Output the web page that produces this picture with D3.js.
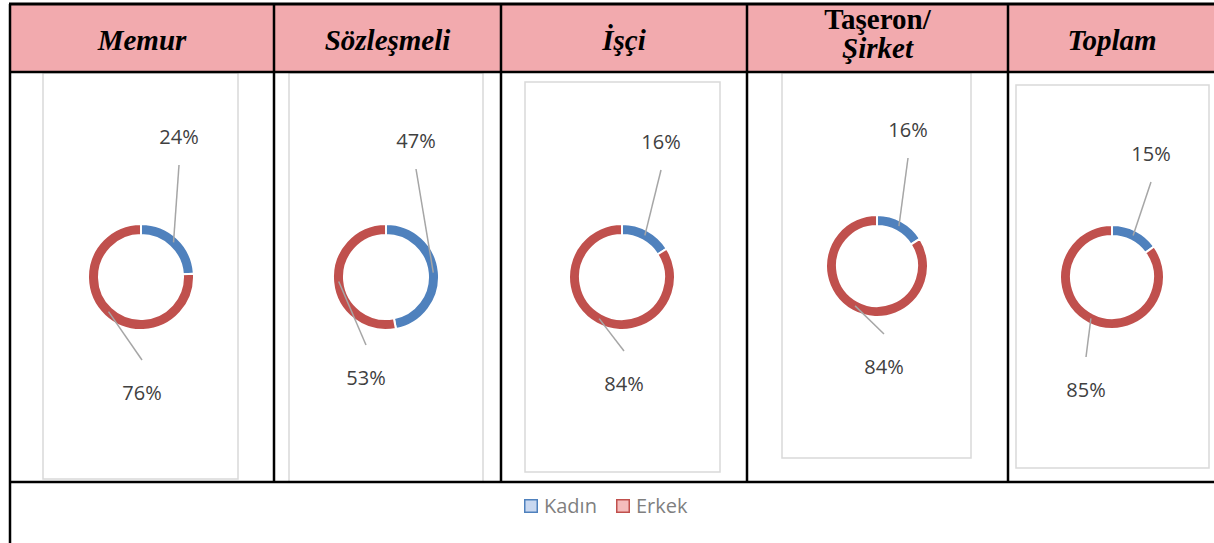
<!DOCTYPE html>
<html>
<head>
<meta charset="utf-8">
<script src="https://cdn.jsdelivr.net/npm/d3@7"></script>
<style>
  html, body { margin: 0; padding: 0; background: #fff; }
  svg { display: block; }
</style>
</head>
<body>
<div id="chart"></div>
<script>
// Data
const categories = ["Memur", "Sözleşmeli", "İşçi", "Taşeron/Şirket", "Toplam"];
const series = ["Kadın", "Erkek"];
const kadin = [24, 47, 16, 16, 15];
const erkek = [76, 53, 84, 84, 85];

document.addEventListener("DOMContentLoaded", function () {
    const width = 1214, height = 543;
    const svg = d3.select("#chart").append("svg")
        .attr("width", width)
        .attr("height", height);

    const colors = { "Kadın": "#4f81bd", "Erkek": "#c0504d" };
    const legendFill = { "Kadın": "#c9d8f0", "Erkek": "#f5bcbc" };

    // table grid
    const colEdges = [10, 274, 501, 747, 1008, 1216];
    const headTop = 4, headBottom = 72, bodyBottom = 482;

    // chart panels (placement of each Excel chart inside its cell)
    const panels = [
        { box: [43, 73, 238, 479], cx: 141, cy: 277, r: 53, lk: [38, -140], le: [1, 116] },
        { box: [289, 73, 483, 482], cx: 386, cy: 277, r: 53, lk: [30, -136], le: [-20, 101] },
        { box: [525, 82, 720, 472], cx: 622, cy: 277, r: 53, lk: [39, -135], le: [2, 107] },
        { box: [782, 73, 971, 458], cx: 877, cy: 266, r: 51, lk: [31, -136], le: [7, 101] },
        { box: [1016, 85, 1209, 468], cx: 1112, cy: 277, r: 52, lk: [39, -123], le: [-26, 113] }
    ];

    // header fill
    svg.append("rect")
        .attr("x", colEdges[0]).attr("y", headTop)
        .attr("width", colEdges[5] - colEdges[0]).attr("height", headBottom - headTop)
        .style("fill", "#f2aaae");

    // header labels
    categories.forEach((cat, i) => {
        const cx = (colEdges[i] + colEdges[i + 1]) / 2;
        const t = svg.append("text")
            .attr("x", cx)
            .attr("text-anchor", "middle")
            .style("font-family", "'Liberation Serif', 'Times New Roman', serif")
            .style("font-weight", "bold")
            .style("font-size", "29px")
            .style("fill", "#000");
        if (cat.indexOf("/") >= 0) {
            const parts = cat.split("/");
            t.append("tspan").attr("x", cx).attr("y", 29).text(parts[0] + "/");
            t.append("tspan").attr("x", cx).attr("y", 58)
                .style("font-style", "italic").text(parts[1]);
        } else {
            t.attr("y", 50).style("font-style", "italic").text(cat);
        }
    });

    // chart boxes
    panels.forEach(p => {
        svg.append("rect")
            .attr("x", p.box[0]).attr("y", p.box[1])
            .attr("width", p.box[2] - p.box[0]).attr("height", p.box[3] - p.box[1])
            .style("fill", "#fff")
            .style("stroke", "#d9d9d9")
            .style("stroke-width", 1.5);
    });

    // donuts
    const pie = d3.pie().sort(null).value(d => d.value);
    categories.forEach((cat, i) => {
        const p = panels[i];
        const rows = [
            { key: series[0], value: kadin[i] },
            { key: series[1], value: erkek[i] }
        ];
        const arcs = pie(rows);
        const arc = d3.arc().innerRadius(p.r - 11).outerRadius(p.r);
        const mid = d3.arc().innerRadius(p.r - 5.5).outerRadius(p.r - 5.5);
        const g = svg.append("g").attr("transform", `translate(${p.cx},${p.cy})`);

        g.selectAll("path")
            .data(arcs)
            .enter().append("path")
            .attr("d", arc)
            .style("fill", d => colors[d.data.key])
            .style("stroke", "#fff")
            .style("stroke-width", 2);

        // leader lines + labels
        arcs.forEach((d, j) => {
            const off = j === 0 ? p.lk : p.le;
            const c = mid.centroid(d);
            const endY = j === 0 ? off[1] + 28 : off[1] - 33;
            g.append("line")
                .attr("x1", c[0]).attr("y1", c[1])
                .attr("x2", off[0]).attr("y2", endY)
                .style("stroke", "#a6a6a6")
                .style("stroke-width", 1.5);
            g.append("text")
                .attr("x", off[0]).attr("y", off[1])
                .attr("dy", "0.35em")
                .attr("text-anchor", "middle")
                .style("font-family", "'Open Sans', sans-serif")
                .style("font-size", "20px")
                .style("fill", "#404040")
                .text(d.data.value + "%");
        });
    });

    // table lines
    const line = (x1, y1, x2, y2, w) => svg.append("line")
        .attr("x1", x1).attr("y1", y1).attr("x2", x2).attr("y2", y2)
        .style("stroke", "#000").style("stroke-width", w);
    line(colEdges[0] - 1, headTop, width, headTop, 3);
    line(colEdges[0], headBottom, width, headBottom, 2.5);
    line(colEdges[0], bodyBottom, width, bodyBottom, 2.5);
    colEdges.slice(1, 5).forEach(x => line(x, headTop, x, bodyBottom, 2.5));
    line(colEdges[0], headTop, colEdges[0], height, 2.5);

    // legend
    const legend = svg.append("g").attr("transform", "translate(524,499)");
    const legX = [0, 92];
    series.forEach((s, i) => {
        const lg = legend.append("g").attr("transform", `translate(${legX[i]},0)`);
        lg.append("rect")
            .attr("x", 0.75).attr("y", 0.75)
            .attr("width", 12.5).attr("height", 12.5)
            .style("fill", legendFill[s])
            .style("stroke", colors[s])
            .style("stroke-width", 1.5);
        lg.append("text")
            .attr("x", 20).attr("y", 14)
            .style("font-family", "'Open Sans', sans-serif")
            .style("font-size", "20px")
            .style("fill", "#7f7f7f")
            .text(s);
    });
});
</script>
</body>
</html>
